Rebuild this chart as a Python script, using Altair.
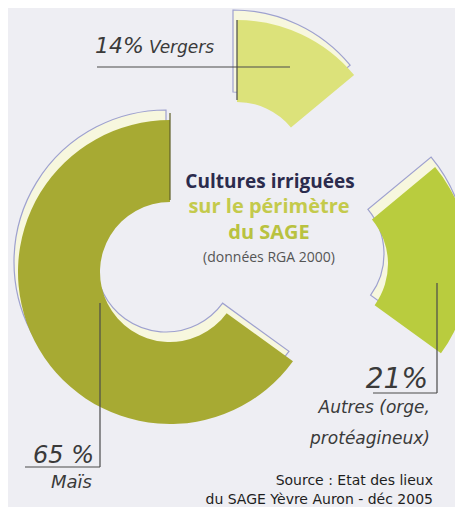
import altair as alt
import pandas as pd

# ---- data ----
categories = ["Vergers", "Autres", "Maïs"]
values = [14, 21, 65]
percent_labels = ["14%", "21%", "65 %"]
name_labels = ["Vergers", "Autres (orge,\nprotéagineux)", "Maïs"]
slice_colors = ["#dce27a", "#b9cc3e", "#a7aa33"]

title_lines = ["Cultures irriguées", "sur le périmètre", "du SAGE", "(données RGA 2000)"]
source_lines = ["Source : Etat des lieux", "du SAGE Yèvre Auron - déc 2005"]

df = pd.DataFrame({
    "cat": categories,
    "value": values,
    "pct": percent_labels,
    "name": name_labels,
    "order": list(range(len(categories))),
})

LABEL_FONT = "DejaVu Sans"
TITLE_FONT = "Open Sans"
R_OUT, R_IN = 152, 70
theta_scale = alt.Scale(domain=[0, 100])

base = alt.Chart(df).transform_stack(
    stack="value", groupby=[], as_=["start", "end"], sort=[alt.SortField("order")]
)


def arc_layer(cat, cx, cy, fill, stroke=None, dx=0, dy=0):
    kw = dict(radius=R_OUT, radius2=R_IN, fill=fill)
    if stroke:
        kw.update(stroke=stroke, strokeWidth=1.2)
    return base.transform_filter(alt.datum.cat == cat).mark_arc(**kw).encode(
        theta=alt.Theta("start:Q", scale=theta_scale, stack=False),
        theta2="end:Q",
        x=alt.value(cx + dx),
        y=alt.value(cy + dy),
    )


centers = {"Vergers": (229, 164), "Autres": (310, 256), "Maïs": (162, 264)}

shadows = [arc_layer(c, *centers[c], fill="#f7f7de", stroke="#9ea1cf", dx=-4, dy=-10)
           for c in categories]
mains = [arc_layer(c, *centers[c], fill=col) for c, col in zip(categories, slice_colors)]

one = pd.DataFrame({"a": [0]})


def rule(x1, y1, x2, y2, color="#4a4a4a", w=1.2):
    return alt.Chart(one).mark_rule(color=color, strokeWidth=w).encode(
        x=alt.value(x1), x2=alt.value(x2), y=alt.value(y1), y2=alt.value(y2)
    )


rules = [
    rule(89, 59, 282, 59),      # Vergers underline
    rule(229, 12, 229, 92),     # Vergers edge
    rule(162, 105, 162, 192, color="#5e5e28"),  # Maïs top edge
    rule(92, 295, 92, 459),     # Maïs leader
    rule(17, 459, 92, 459),
    rule(429, 275, 429, 385),   # Autres leader
    rule(365, 385, 429, 385),
]


def cat_text(cat, field, x, y, size, align, italic=False, color="#3a3a3a", lh=None):
    kw = dict(font=LABEL_FONT, fontSize=size, align=align, baseline="alphabetic", color=color)
    if italic:
        kw["fontStyle"] = "italic"
    if lh:
        kw.update(lineBreak="\n", lineHeight=lh)
    return alt.Chart(df).transform_filter(alt.datum.cat == cat).mark_text(**kw).encode(
        text=f"{field}:N", x=alt.value(x), y=alt.value(y)
    )


labels = [
    cat_text("Vergers", "pct", 87, 45, 22, "left", italic=True),
    cat_text("Vergers", "name", 141, 45, 17, "left", italic=True),
    cat_text("Maïs", "pct", 86, 455, 24, "right", italic=True),
    cat_text("Maïs", "name", 84, 480, 18, "right", italic=True),
    cat_text("Autres", "pct", 420, 380, 28, "right", italic=True),
    cat_text("Autres", "name", 422, 405, 17, "right", italic=True, lh=31),
]


def free_text(txt, x, y, size, color, weight="normal", align="center", font=TITLE_FONT):
    return alt.Chart(pd.DataFrame({"t": [txt]})).mark_text(
        font=font, fontSize=size, fontWeight=weight, color=color,
        align=align, baseline="alphabetic"
    ).encode(text="t:N", x=alt.value(x), y=alt.value(y))


center_txt = [
    free_text(title_lines[0], 262, 180, 19, "#2b2b4d", "bold"),
    free_text(title_lines[1], 261, 205, 20, "#c4ca4c", "bold"),
    free_text(title_lines[2], 261, 231, 20, "#b9c240", "bold"),
    free_text(title_lines[3], 261, 254, 14, "#555555"),
]

source_txt = [
    free_text(source_lines[0], 425, 477, 14, "#1e1e1e", "normal", "right", LABEL_FONT),
    free_text(source_lines[1], 425, 496, 14, "#1e1e1e", "normal", "right", LABEL_FONT),
]

chart = alt.layer(*shadows, *mains, *rules, *labels, *center_txt, *source_txt).properties(
    width=447, height=499, background="#eeeef3", padding=0, autosize="none"
).configure_view(strokeWidth=0)

chart.save("out.html", embed_options={"renderer": "svg", "actions": False})
